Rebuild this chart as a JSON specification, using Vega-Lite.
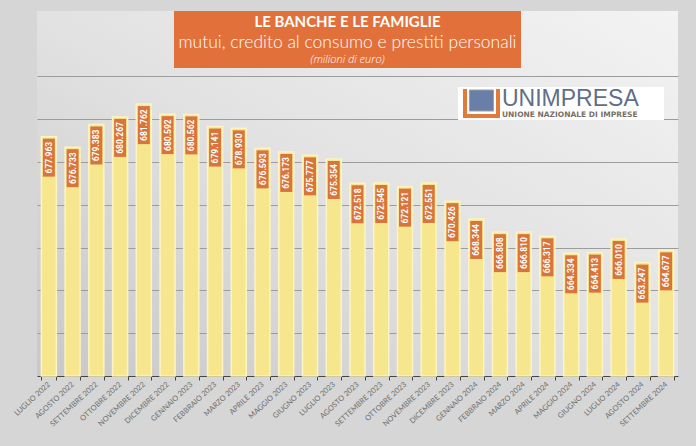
{
  "$schema": "https://vega.github.io/schema/vega-lite/v6.json",
  "width": 641,
  "height": 365,
  "autosize": {"type": "none"},
  "padding": {"left": 37, "top": 11, "right": 18, "bottom": 70},
  "background": "#d6d6d6",
  "config": {
    "view": {
      "stroke": null,
      "fill": {"gradient": "linear", "x1": 1, "y1": 0, "x2": 0, "y2": 1,
        "stops": [{"offset": 0, "color": "#f3f3f3"}, {"offset": 0.5, "color": "#e2e2e2"}, {"offset": 1, "color": "#c8c8c8"}]}
    }
  },
  "layer": [
    {
      "data": {"values": [
        {"mese": "LUGLIO 2022", "valore": 677.963},
        {"mese": "AGOSTO 2022", "valore": 676.733},
        {"mese": "SETTEMBRE 2022", "valore": 679.383},
        {"mese": "OTTOBRE 2022", "valore": 680.267},
        {"mese": "NOVEMBRE 2022", "valore": 681.762},
        {"mese": "DICEMBRE 2022", "valore": 680.592},
        {"mese": "GENNAIO 2023", "valore": 680.562},
        {"mese": "FEBBRAIO 2023", "valore": 679.141},
        {"mese": "MARZO 2023", "valore": 678.930},
        {"mese": "APRILE 2023", "valore": 676.593},
        {"mese": "MAGGIO 2023", "valore": 676.173},
        {"mese": "GIUGNO 2023", "valore": 675.777},
        {"mese": "LUGLIO 2023", "valore": 675.354},
        {"mese": "AGOSTO 2023", "valore": 672.518},
        {"mese": "SETTEMBRE 2023", "valore": 672.545},
        {"mese": "OTTOBRE 2023", "valore": 672.121},
        {"mese": "NOVEMBRE 2023", "valore": 672.551},
        {"mese": "DICEMBRE 2023", "valore": 670.426},
        {"mese": "GENNAIO 2024", "valore": 668.344},
        {"mese": "FEBBRAIO 2024", "valore": 666.808},
        {"mese": "MARZO 2024", "valore": 666.810},
        {"mese": "APRILE 2024", "valore": 666.317},
        {"mese": "MAGGIO 2024", "valore": 664.334},
        {"mese": "GIUGNO 2024", "valore": 664.413},
        {"mese": "LUGLIO 2024", "valore": 666.010},
        {"mese": "AGOSTO 2024", "valore": 663.247},
        {"mese": "SETTEMBRE 2024", "valore": 664.677}
      ]},
      "encoding": {
        "x": {"field": "mese", "type": "nominal", "sort": null,
          "scale": {"paddingInner": 0.37, "paddingOuter": 0.185},
          "axis": {"title": null, "labelAngle": -43, "labelAlign": "right", "labelBaseline": "middle",
            "labelFont": "Lato", "labelFontSize": 7.5, "labelColor": "#6e6e6e", "labelPadding": 3,
            "labelOverlap": false, "labelBound": false,
            "tickBand": "extent", "tickColor": "#444444", "tickSize": 4,
            "domainColor": "#444444", "domainWidth": 1, "grid": false}},
        "y": {"field": "valore", "type": "quantitative",
          "scale": {"domain": [650, 692.64], "nice": false, "zero": false},
          "axis": {"title": null, "labels": false, "ticks": false, "domain": false,
            "grid": true, "gridColor": "#9c9c9c", "gridWidth": 1,
            "values": [655, 660, 665, 670, 675, 680, 685]}}
      },
      "layer": [
        {"mark": {"type": "bar", "color": "#f6e68e", "stroke": "#fcf4c2", "strokeWidth": 1.5},
          "encoding": {"y2": {"datum": 650}}},
        {"mark": {"type": "point", "filled": true, "color": "#d9753c", "opacity": 1,
          "shape": "M-0.3,0.1L0.3,0.1L0.3,2L-0.3,2Z", "size": 1600}},
        {"mark": {"type": "text", "angle": 270, "align": "center", "baseline": "middle", "dx": -21,
          "font": "Roboto", "fontWeight": "bold", "fontSize": 8.5, "color": "#ffffff"},
          "encoding": {"text": {"field": "valore", "type": "quantitative", "format": ".3f"}}}
      ]
    },
    {
      "data": {"values": [{}]},
      "layer": [
        {"mark": {"type": "rect", "color": "#e2703a"},
          "encoding": {
            "x": {"datum": 0.2137, "type": "quantitative", "scale": {"domain": [0, 1], "nice": false}, "axis": null},
            "x2": {"datum": 0.7551},
            "y": {"datum": 1, "type": "quantitative", "scale": {"domain": [0, 1], "nice": false}, "axis": null},
            "y2": {"datum": 0.8438}}},
        {"mark": {"type": "text", "text": "LE BANCHE E LE FAMIGLIE", "font": "Lato", "fontWeight": "bold", "fontSize": 15, "color": "#ffffff", "align": "center", "baseline": "alphabetic"},
          "encoding": {"x": {"datum": 0.4844, "type": "quantitative"}, "y": {"datum": 0.9575, "type": "quantitative"}}},
        {"mark": {"type": "text", "text": "mutui, credito al consumo e prestiti personali", "font": "Lato", "fontWeight": 300, "fontSize": 17.5, "color": "#ffffff", "align": "center", "baseline": "alphabetic"},
          "encoding": {"x": {"datum": 0.4844, "type": "quantitative"}, "y": {"datum": 0.8997, "type": "quantitative"}}},
        {"mark": {"type": "text", "text": "(milioni di euro)", "font": "Open Sans", "fontStyle": "italic", "fontWeight": 300, "fontSize": 11, "color": "#ffffff", "align": "center", "baseline": "alphabetic"},
          "encoding": {"x": {"datum": 0.4844, "type": "quantitative"}, "y": {"datum": 0.8575, "type": "quantitative"}}},
        {"mark": {"type": "rect", "color": "#ffffff"},
          "encoding": {"x": {"datum": 0.6568, "type": "quantitative"}, "x2": {"datum": 0.9782},
            "y": {"datum": 0.7918, "type": "quantitative"}, "y2": {"datum": 0.7014}}},
        {"mark": {"type": "rect", "color": "#e07b39"},
          "encoding": {"x": {"datum": 0.6646, "type": "quantitative"}, "x2": {"datum": 0.7223},
            "y": {"datum": 0.7863, "type": "quantitative"}, "y2": {"datum": 0.7068}}},
        {"mark": {"type": "rect", "color": "#ffffff"},
          "encoding": {"x": {"datum": 0.6708, "type": "quantitative"}, "x2": {"datum": 0.7161},
            "y": {"datum": 0.7918, "type": "quantitative"}, "y2": {"datum": 0.7178}}},
        {"mark": {"type": "rect", "color": "#6a7fa8", "stroke": "#a0a0a0", "strokeWidth": 1},
          "encoding": {"x": {"datum": 0.6747, "type": "quantitative"}, "x2": {"datum": 0.7122},
            "y": {"datum": 0.7836, "type": "quantitative"}, "y2": {"datum": 0.7260}}},
        {"mark": {"type": "text", "text": "UNIMPRESA", "font": "Liberation Sans", "fontSize": 23, "color": "#5f6f86", "align": "left", "baseline": "alphabetic"},
          "encoding": {"x": {"datum": 0.7254, "type": "quantitative"}, "y": {"datum": 0.7384, "type": "quantitative"}}},
        {"mark": {"type": "text", "text": "UNIONE NAZIONALE DI IMPRESE", "font": "DejaVu Sans", "fontWeight": "bold", "fontSize": 7.5, "color": "#7a6f66", "align": "left", "baseline": "alphabetic"},
          "encoding": {"x": {"datum": 0.7254, "type": "quantitative"}, "y": {"datum": 0.7096, "type": "quantitative"}}}
      ]
    }
  ],
  "resolve": {"scale": {"x": "independent", "y": "independent"}}
}
